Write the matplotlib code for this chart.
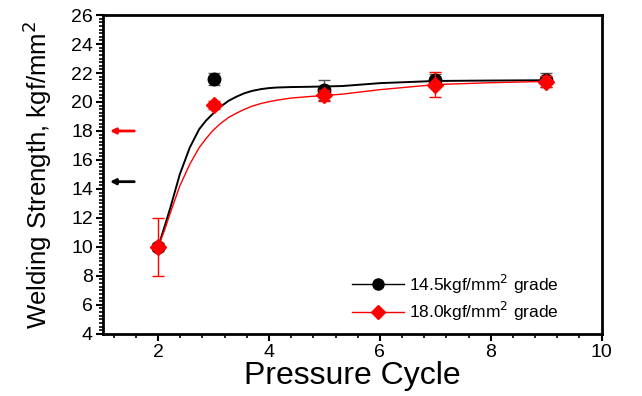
import matplotlib
matplotlib.use("Agg")
import matplotlib.pyplot as plt
from matplotlib.ticker import MultipleLocator

plt.rcParams['font.family'] = ['Liberation Sans', 'DejaVu Sans']

# measured points
cycles = [2, 3, 5, 7, 9]
strength_145 = [10.0, 21.6, 20.85, 21.5, 21.5]
err_145 = [0.3, 0.4, 0.7, 0.4, 0.5]
strength_180 = [10.0, 19.8, 20.45, 21.2, 21.4]
err_180 = [2.0, 0.3, 0.35, 0.87, 0.4]

# fitted curves
fit_x = [2.0, 2.12, 2.22, 2.39, 2.57, 2.74, 2.86, 2.98, 3.12, 3.27, 3.42, 3.56, 3.7, 3.86, 4.0, 4.15, 4.4, 4.74, 5.32, 6.0, 7.0, 8.0, 9.0]
fit_145 = [10.0, 11.45, 12.7, 15.0, 16.85, 18.12, 18.7, 19.16, 19.66, 20.08, 20.38, 20.61, 20.77, 20.89, 20.96, 21.0, 21.03, 21.05, 21.1, 21.3, 21.45, 21.48, 21.5]
fit_180 = [10.0, 11.2, 12.35, 14.2, 15.7, 16.85, 17.45, 18.0, 18.5, 18.93, 19.24, 19.5, 19.72, 19.9, 20.02, 20.13, 20.27, 20.38, 20.54, 20.85, 21.2, 21.33, 21.42]

grade_levels = [18.0, 14.5]
grade_colors = ['red', 'black']

fig = plt.figure(figsize=(6.42, 3.96), dpi=100)
ax = fig.add_axes([0.160, 0.157, 0.777, 0.805])

ax.plot(fit_x, fit_145, color='black', lw=1.4, zorder=2)
ax.plot(fit_x, fit_180, color='red', lw=1.0, zorder=2)

ax.errorbar(cycles, strength_145, yerr=err_145, fmt='o', color='black', ms=9,
            ecolor='#555555', elinewidth=1, capsize=4, zorder=3)
ax.errorbar(cycles, strength_180, yerr=err_180, fmt='D', color='red', ms=8.5,
            ecolor='red', elinewidth=1, capsize=4, zorder=4)

# legend handles (line + marker)
h1, = ax.plot([], [], '-o', color='black', lw=1, ms=8)
h2, = ax.plot([], [], '-D', color='red', lw=1, ms=7)
ax.legend([h1, h2], ['14.5kgf/mm$^2$ grade', '18.0kgf/mm$^2$ grade'],
          loc='lower right', bbox_to_anchor=(0.945, -0.015), frameon=False,
          fontsize=12.5, handlelength=3.0, labelspacing=0.25, handletextpad=0.3)

# arrows marking the grade levels
for lvl, c in zip(grade_levels, grade_colors):
    ax.annotate('', xy=(1.08, lvl), xytext=(1.62, lvl),
                arrowprops=dict(arrowstyle='-|>', color=c, lw=2, mutation_scale=8))

ax.set_xlim(1, 10)
ax.set_ylim(4, 26)
ax.xaxis.set_major_locator(MultipleLocator(2))
ax.xaxis.set_minor_locator(MultipleLocator(0.4))
ax.yaxis.set_major_locator(MultipleLocator(2))
ax.yaxis.set_minor_locator(MultipleLocator(0.25))
ax.tick_params(which='major', direction='out', length=5, width=1.5, labelsize=14, pad=2)
ax.tick_params(which='minor', direction='out', length=3, width=1.2)
for s in ax.spines.values():
    s.set_linewidth(2)

ax.set_xlabel('Pressure Cycle', fontsize=23, labelpad=0)
ax.set_ylabel('Welding Strength, kgf/mm$^2$', fontsize=18.5, labelpad=12)

fig.savefig('out.png', dpi=100)
